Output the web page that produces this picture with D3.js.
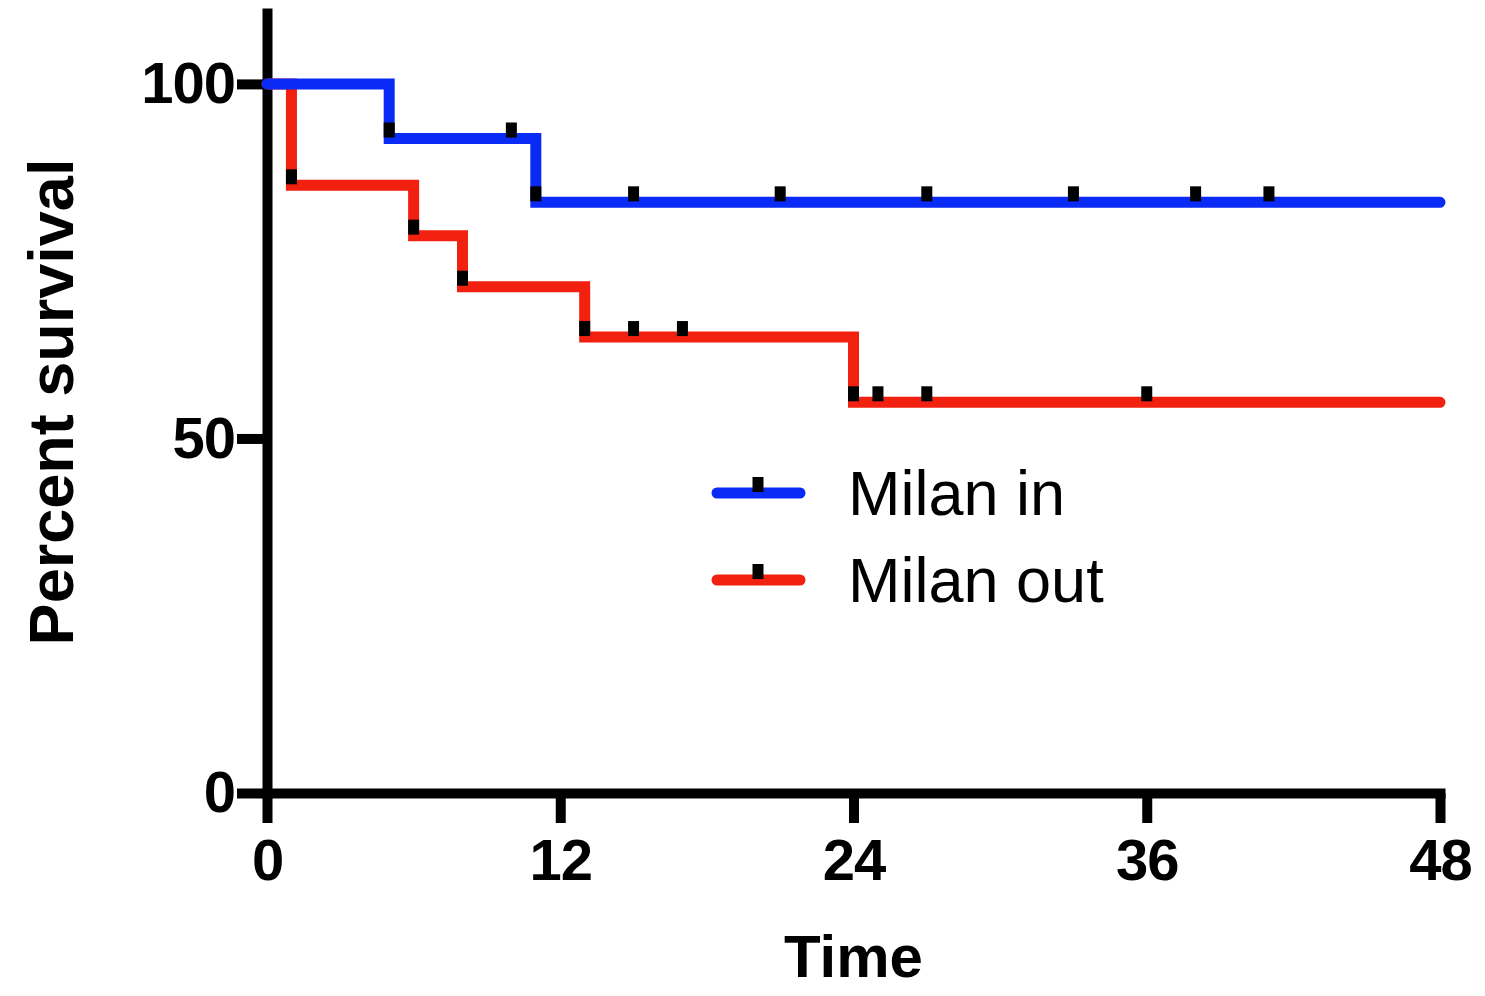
<!DOCTYPE html>
<html>
<head>
<meta charset="utf-8">
<script src="https://cdn.jsdelivr.net/npm/d3@7"></script>
<style>
  html, body { margin: 0; padding: 0; background: #fff; }
  svg { display: block; font-family: "Liberation Sans", Arial, Helvetica, sans-serif; }
</style>
</head>
<body>
<div class="km-chart"></div>
<script>
(function() {
    const width = 1485
    const height = 996

    // survival steps (time in months, percent survival)
    const inTimes = [0, 5, 11]
    const inSurv = [100, 92.3, 83.3]
    const inMarks = [5, 10, 11, 15, 21, 27, 33, 38, 41]

    const outTimes = [0, 1, 6, 8, 13, 24]
    const outSurv = [100, 85.7, 78.6, 71.4, 64.3, 55.1]
    const outMarks = [1, 6, 8, 13, 15, 17, 24, 25, 27, 36]

    const xTicks = [0, 12, 24, 36, 48]
    const yTicks = [0, 50, 100]
    const seriesNames = ['Milan in', 'Milan out']
    const colors = ['#0a2af5', '#f2200f']
    const tEnd = 48

    const svg = d3.select('.km-chart')
        .append('svg')
        .attr('width', width)
        .attr('height', height)
        .attr('viewBox', `0 0 ${width} ${height}`)

    const x = d3.scaleLinear().domain([0, 48]).range([267, 1440])
    const y = d3.scaleLinear().domain([0, 110]).range([793, 13])

    // step function lookup: value at time t (right continuous)
    function survAt(times, surv, t) {
        let v = surv[0]
        times.forEach((tt, i) => { if (tt <= t) v = surv[i] })
        return v
    }

    const line = d3.line()
        .x(d => x(d[0]))
        .y(d => y(d[1]))
        .curve(d3.curveStepAfter)

    const series = [
        { times: inTimes, surv: inSurv, marks: inMarks, color: colors[0] },
        { times: outTimes, surv: outSurv, marks: outMarks, color: colors[1] }
    ]

    // axes
    const yAxis = d3.axisLeft(y)
        .tickValues(yTicks)
        .tickSize(30)
        .tickSizeOuter(0)
        .tickPadding(2)

    const xAxis = d3.axisBottom(x)
        .tickValues(xTicks)
        .tickSize(30)
        .tickSizeOuter(0)
        .tickPadding(16)

    const gx = svg.append('g')
        .attr('transform', `translate(0,${y(0)})`)
        .call(xAxis)
    const gy = svg.append('g')
        .attr('transform', `translate(${x(0)},0)`)
        .call(yAxis)

    ;[gx, gy].forEach(g => {
        g.select('.domain')
            .attr('stroke', '#000')
            .attr('stroke-width', 10)
            .attr('stroke-linecap', 'square')
        g.selectAll('.tick line')
            .attr('stroke', '#000')
            .attr('stroke-width', 10)
        g.selectAll('.tick text')
            .attr('fill', '#000')
            .attr('font-size', 58)
            .attr('font-weight', 'bold')
            .attr('letter-spacing', -1)
            .attr('font-family', '"Liberation Sans", Arial, sans-serif')
    })

    // draw red first so blue is on top at 100
    series.slice().reverse().forEach(s => {
        const pts = s.times.map((t, i) => [t, s.surv[i]])
        pts.push([tEnd, s.surv[s.surv.length - 1]])

        svg.append('path')
            .datum(pts)
            .attr('d', line)
            .attr('fill', 'none')
            .attr('stroke', s.color)
            .attr('stroke-width', 11)
            .attr('stroke-linejoin', 'miter')
            .attr('stroke-linecap', 'round')

        svg.selectAll(null)
            .data(s.marks)
            .enter()
            .append('rect')
            .attr('x', d => x(d) - 5.5)
            .attr('y', d => y(survAt(s.times, s.surv, d)) - 16)
            .attr('width', 11)
            .attr('height', 15)
            .attr('fill', '#000')
    })

    // axis titles
    svg.append('text')
        .attr('x', (x(0) + x(48)) / 2)
        .attr('y', 977)
        .attr('text-anchor', 'middle')
        .attr('font-size', 60)
        .attr('font-weight', 'bold')
        .text('Time')

    svg.append('text')
        .attr('transform', 'translate(73,402) rotate(-90)')
        .attr('text-anchor', 'middle')
        .attr('font-size', 63)
        .attr('font-weight', 'bold')
        .text('Percent survival')

    // legend
    const legend = svg.append('g')
    seriesNames.forEach((name, i) => {
        const ly = 493 + i * 87
        legend.append('line')
            .attr('x1', 717).attr('x2', 800)
            .attr('y1', ly).attr('y2', ly)
            .attr('stroke', colors[i])
            .attr('stroke-width', 11)
            .attr('stroke-linecap', 'round')
        legend.append('rect')
            .attr('x', 752.5).attr('y', ly - 16)
            .attr('width', 11).attr('height', 15)
            .attr('fill', '#000')
        legend.append('text')
            .attr('x', 848)
            .attr('y', ly + 22)
            .attr('font-size', 63)
            .text(name)
    })
}())
</script>
</body>
</html>
